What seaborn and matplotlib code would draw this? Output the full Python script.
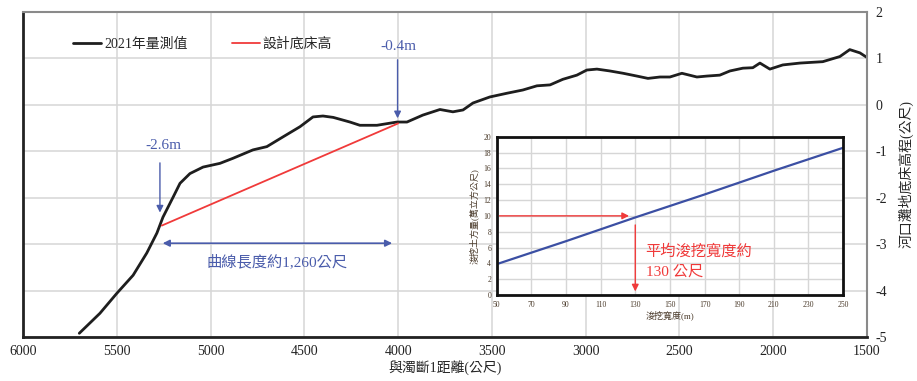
import matplotlib
matplotlib.use("Agg")
import matplotlib.pyplot as plt
import seaborn as sns

# 2021 measured bed elevation along distance from section 1
dist = [5700, 5590, 5500, 5413, 5340, 5286, 5254, 5200, 5163, 5110, 5040, 4950,
        4880, 4774, 4700, 4614, 4523, 4454, 4401, 4346, 4257, 4204, 4113, 4006,
        3953, 3868, 3777, 3708, 3654, 3601, 3511, 3420, 3335, 3260, 3190, 3122,
        3047, 2994, 2940, 2871, 2800, 2727, 2668, 2604, 2551, 2487, 2407, 2354,
        2285, 2231, 2162, 2109, 2071, 2018, 1949, 1858, 1736, 1645, 1592, 1538, 1500]
elev = [-4.92, -4.49, -4.06, -3.67, -3.19, -2.76, -2.42, -1.99, -1.69, -1.48, -1.34, -1.26,
        -1.15, -0.97, -0.90, -0.69, -0.47, -0.26, -0.24, -0.27, -0.37, -0.44, -0.44, -0.37,
        -0.37, -0.22, -0.10, -0.15, -0.11, 0.04, 0.17, 0.25, 0.32, 0.41, 0.43, 0.55,
        0.64, 0.75, 0.77, 0.73, 0.68, 0.62, 0.57, 0.60, 0.60, 0.68, 0.60, 0.62,
        0.64, 0.73, 0.79, 0.80, 0.90, 0.77, 0.86, 0.90, 0.93, 1.04, 1.19, 1.12, 1.02]

# design bed line
design_dist = [5260, 4000]
design_elev = [-2.6, -0.4]

# inset: dredging width vs volume
width = [50, 90, 130, 170, 210, 250]
volume = [3.9, 6.8, 9.8, 12.7, 15.7, 18.6]

x_ticks = [6000, 5500, 5000, 4500, 4000, 3500, 3000, 2500, 2000, 1500]
y_ticks = [-5, -4, -3, -2, -1, 0, 1, 2]
inset_x_ticks = [50, 70, 90, 110, 130, 150, 170, 190, 210, 230, 250]
inset_y_ticks = [0, 2, 4, 6, 8, 10, 12, 14, 16, 18, 20]

sns.set_style("whitegrid")
plt.rcParams['font.family'] = ['Liberation Serif', 'Noto Sans CJK TC', 'DejaVu Sans']
plt.rcParams['axes.unicode_minus'] = False

blue = '#4a5cab'
red = '#f03a3a'

fig = plt.figure(figsize=(9.17, 3.81), dpi=100)
ax = fig.add_axes([0.0251, 0.1155, 0.9204, 0.853])

sns.lineplot(x=dist, y=elev, color='#1e1e1e', lw=2.0, ax=ax, sort=False, label='2021年量測值')
sns.lineplot(x=design_dist, y=design_elev, color=red, lw=1.3, ax=ax, sort=False, label='設計底床高')

ax.set_xlim(6000, 1500)
ax.set_ylim(-5, 2)
ax.set_xticks(x_ticks)
ax.set_yticks(y_ticks)
ax.yaxis.tick_right()
ax.yaxis.set_label_position('right')
ax.tick_params(length=0, labelsize=10, colors='#222222', pad=6)
ax.grid(True, color='#d6d6d6', lw=1.1)
ax.set_xlabel('與濁斷1距離(公尺)', fontsize=10, labelpad=1)
ax.set_ylabel('河口灘地底床高程(公尺)', fontsize=10, labelpad=8)
for side in ['left', 'bottom']:
    ax.spines[side].set_color('#222222')
    ax.spines[side].set_linewidth(2)
for side in ['top', 'right']:
    ax.spines[side].set_color('#8a8a8a')
    ax.spines[side].set_linewidth(1.5)

ax.legend(loc='upper left', ncol=2, frameon=False, fontsize=10,
          bbox_to_anchor=(0.045, 0.96), handlelength=2.0, columnspacing=3.2,
          handletextpad=0.2)

# annotations
ax.text(5254, -0.87, '-2.6m', color=blue, fontsize=11, ha='center', va='center')
ax.annotate('', xy=(5270, -2.38), xytext=(5270, -1.19),
            arrowprops=dict(arrowstyle='-|>', color=blue, lw=1))
ax.text(4000, 1.25, '-0.4m', color=blue, fontsize=11, ha='center', va='center')
ax.annotate('', xy=(4003, -0.35), xytext=(4003, 1.03),
            arrowprops=dict(arrowstyle='-|>', color=blue, lw=1))
ax.annotate('', xy=(4017, -2.98), xytext=(5270, -2.98),
            arrowprops=dict(arrowstyle='<|-|>', color=blue, lw=1.2))
ax.text(4646, -3.39, '曲線長度約1,260公尺', color=blue, fontsize=11, ha='center', va='center')

# inset
ax2 = fig.add_axes([0.5417, 0.2257, 0.3777, 0.4155])
ax2.set_facecolor('white')
sns.lineplot(x=width, y=volume, color='#3b4fa3', lw=1.6, ax=ax2)
ax2.set_xlim(50, 250)
ax2.set_ylim(0, 20)
ax2.set_xticks(inset_x_ticks)
ax2.set_yticks(inset_y_ticks)
ax2.tick_params(length=0, labelsize=5.5, colors='#4a3a2a', pad=4)
ax2.grid(True, color='#d6d6d6', lw=1)
ax2.set_xlabel('浚挖寬度(m)', fontsize=6.5, labelpad=1, color='#4a3a2a')
ax2.set_ylabel('浚挖土方量(萬立方公尺)', fontsize=6.5, labelpad=3, color='#4a3a2a')
for side in ax2.spines:
    ax2.spines[side].set_color('#111111')
    ax2.spines[side].set_linewidth(2)

ax2.annotate('', xy=(128, 10), xytext=(50, 10),
             arrowprops=dict(arrowstyle='-|>', color=red, lw=1))
ax2.annotate('', xy=(130, 0.1), xytext=(130, 9.2),
             arrowprops=dict(arrowstyle='-|>', color=red, lw=1))
ax2.text(136, 5.5, '平均浚挖寬度約', color=red, fontsize=11, va='center', ha='left')
ax2.text(136, 2.9, '130 公尺', color=red, fontsize=11, va='center', ha='left')

fig.savefig('out.png', dpi=100)
